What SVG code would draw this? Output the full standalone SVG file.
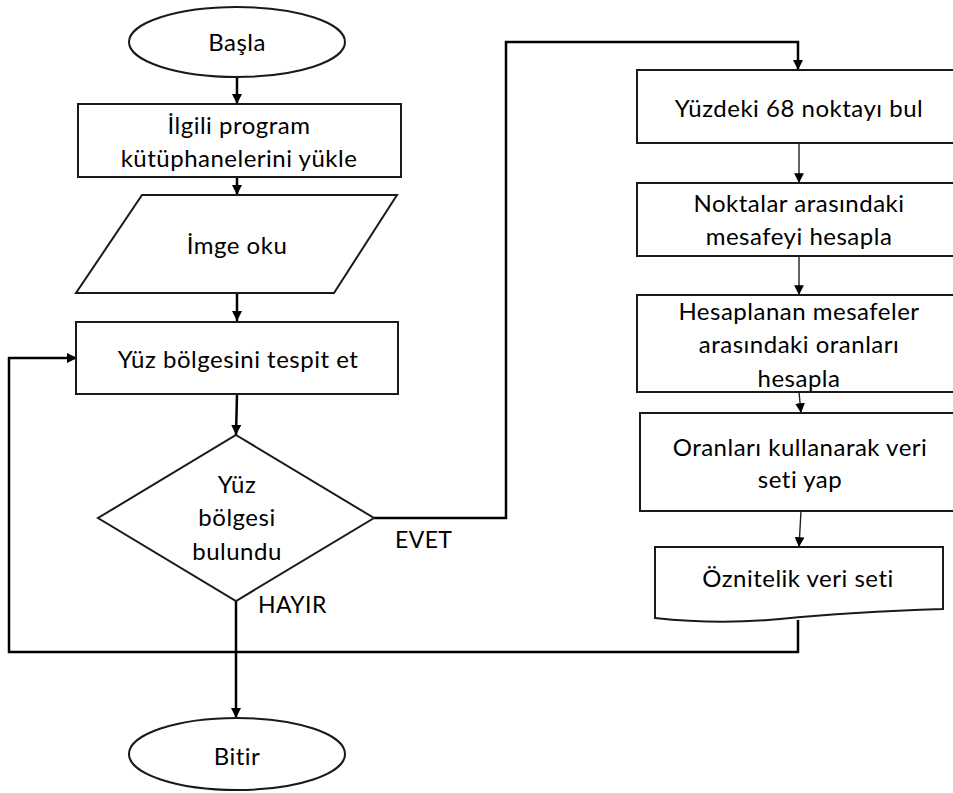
<svg xmlns="http://www.w3.org/2000/svg" width="953" height="793" viewBox="0 0 953 793">
  <style>
    .shape { fill: #ffffff; stroke: #1a1a1a; stroke-width: 2; }
    .lbl { font-family: Lato, "Noto Sans", "Liberation Sans", sans-serif; font-size: 24px; letter-spacing: 0.5px; fill: #000; text-anchor: middle; }
    .tag { font-family: Lato, "Noto Sans", "Liberation Sans", sans-serif; font-size: 23px; letter-spacing: 0.4px; fill: #000; }
    .flow { fill: none; stroke: #000; stroke-width: 2.5; }
    .flow-thin { fill: none; stroke: #222; stroke-width: 1.4; }
  </style>
  <defs>
    <marker id="arrow" viewBox="0 0 10 10" refX="10" refY="5" markerWidth="4" markerHeight="4" orient="auto" markerUnits="strokeWidth">
      <path d="M0,0 L10,5 L0,10 z" fill="#000"/>
    </marker>
    <marker id="arrow-thin" viewBox="0 0 10 10" refX="10" refY="5" markerWidth="7" markerHeight="7" orient="auto" markerUnits="strokeWidth">
      <path d="M0,0 L10,5 L0,10 z" fill="#000"/>
    </marker>
  </defs>

  <rect width="953" height="793" fill="#ffffff"/>

  <!-- connectors -->
  <g id="connectors">
    <line class="flow" x1="237" y1="77" x2="237" y2="104" marker-end="url(#arrow)"/>
    <line class="flow" x1="237" y1="177" x2="237" y2="195" marker-end="url(#arrow)"/>
    <line class="flow" x1="237" y1="293" x2="237" y2="321" marker-end="url(#arrow)"/>
    <line class="flow" x1="237" y1="394" x2="236" y2="435" marker-end="url(#arrow)"/>
    <!-- yes branch -->
    <polyline class="flow" points="374,518 506,518 506,42 798,42 798,70" marker-end="url(#arrow)"/>
    <!-- no branch -->
    <line class="flow" x1="236" y1="601" x2="236" y2="718" marker-end="url(#arrow)"/>
    <!-- loop back -->
    <polyline class="flow" points="798,620 798,652 9,652 9,358 77,358" marker-end="url(#arrow)"/>
    <!-- right column -->
    <line class="flow-thin" x1="799" y1="143" x2="799" y2="183" marker-end="url(#arrow-thin)"/>
    <line class="flow-thin" x1="799" y1="256" x2="799" y2="295" marker-end="url(#arrow-thin)"/>
    <line class="flow-thin" x1="799" y1="392" x2="801" y2="413" marker-end="url(#arrow-thin)"/>
    <line class="flow-thin" x1="801" y1="511" x2="799" y2="547" marker-end="url(#arrow-thin)"/>
  </g>

  <g id="start">
    <ellipse class="shape" cx="237" cy="42" rx="108" ry="35"/>
    <text class="lbl" x="237" y="51">Başla</text>
  </g>

  <g id="load-libs">
    <rect class="shape" x="78" y="104" width="323" height="73"/>
    <text class="lbl" x="239" y="134">İlgili program</text>
    <text class="lbl" x="239" y="167">kütüphanelerini yükle</text>
  </g>

  <g id="read-image">
    <polygon class="shape" points="142,195 397,195 334,293 76,293"/>
    <text class="lbl" x="237" y="254">İmge oku</text>
  </g>

  <g id="detect-face">
    <rect class="shape" x="76" y="322" width="322" height="72"/>
    <text class="lbl" x="238" y="368">Yüz bölgesini tespit et</text>
  </g>

  <g id="face-found">
    <polygon class="shape" points="236,435 374,518 236,601 98,518"/>
    <text class="lbl" x="237" y="493">Yüz</text>
    <text class="lbl" x="237" y="526">bölgesi</text>
    <text class="lbl" x="237" y="560">bulundu</text>
  </g>

  <g id="labels">
    <text class="tag" x="395" y="548">EVET</text>
    <text class="tag" x="258" y="613">HAYIR</text>
  </g>

  <g id="end">
    <ellipse class="shape" cx="237" cy="754" rx="108" ry="36"/>
    <text class="lbl" x="237" y="765">Bitir</text>
  </g>

  <g id="find-landmarks">
    <rect class="shape" x="637" y="70" width="330" height="73"/>
    <text class="lbl" x="799" y="117">Yüzdeki 68 noktayı bul</text>
  </g>

  <g id="distances">
    <rect class="shape" x="637" y="183" width="330" height="73"/>
    <text class="lbl" x="799" y="212">Noktalar arasındaki</text>
    <text class="lbl" x="799" y="245">mesafeyi hesapla</text>
  </g>

  <g id="ratios">
    <rect class="shape" x="637" y="295" width="330" height="97"/>
    <text class="lbl" x="799" y="320">Hesaplanan mesafeler</text>
    <text class="lbl" x="799" y="353">arasındaki oranları</text>
    <text class="lbl" x="799" y="387">hesapla</text>
  </g>

  <g id="build-dataset">
    <rect class="shape" x="640" y="413" width="330" height="98"/>
    <text class="lbl" x="800" y="456">Oranları kullanarak veri</text>
    <text class="lbl" x="800" y="488">seti yap</text>
  </g>

  <g id="feature-set">
    <path class="shape" d="M655,547 L943,547 L943,609 C880,611 830,614 780,619 C740,623 700,623 655,618 Z"/>
    <text class="lbl" x="798" y="587">Öznitelik veri seti</text>
  </g>
</svg>
